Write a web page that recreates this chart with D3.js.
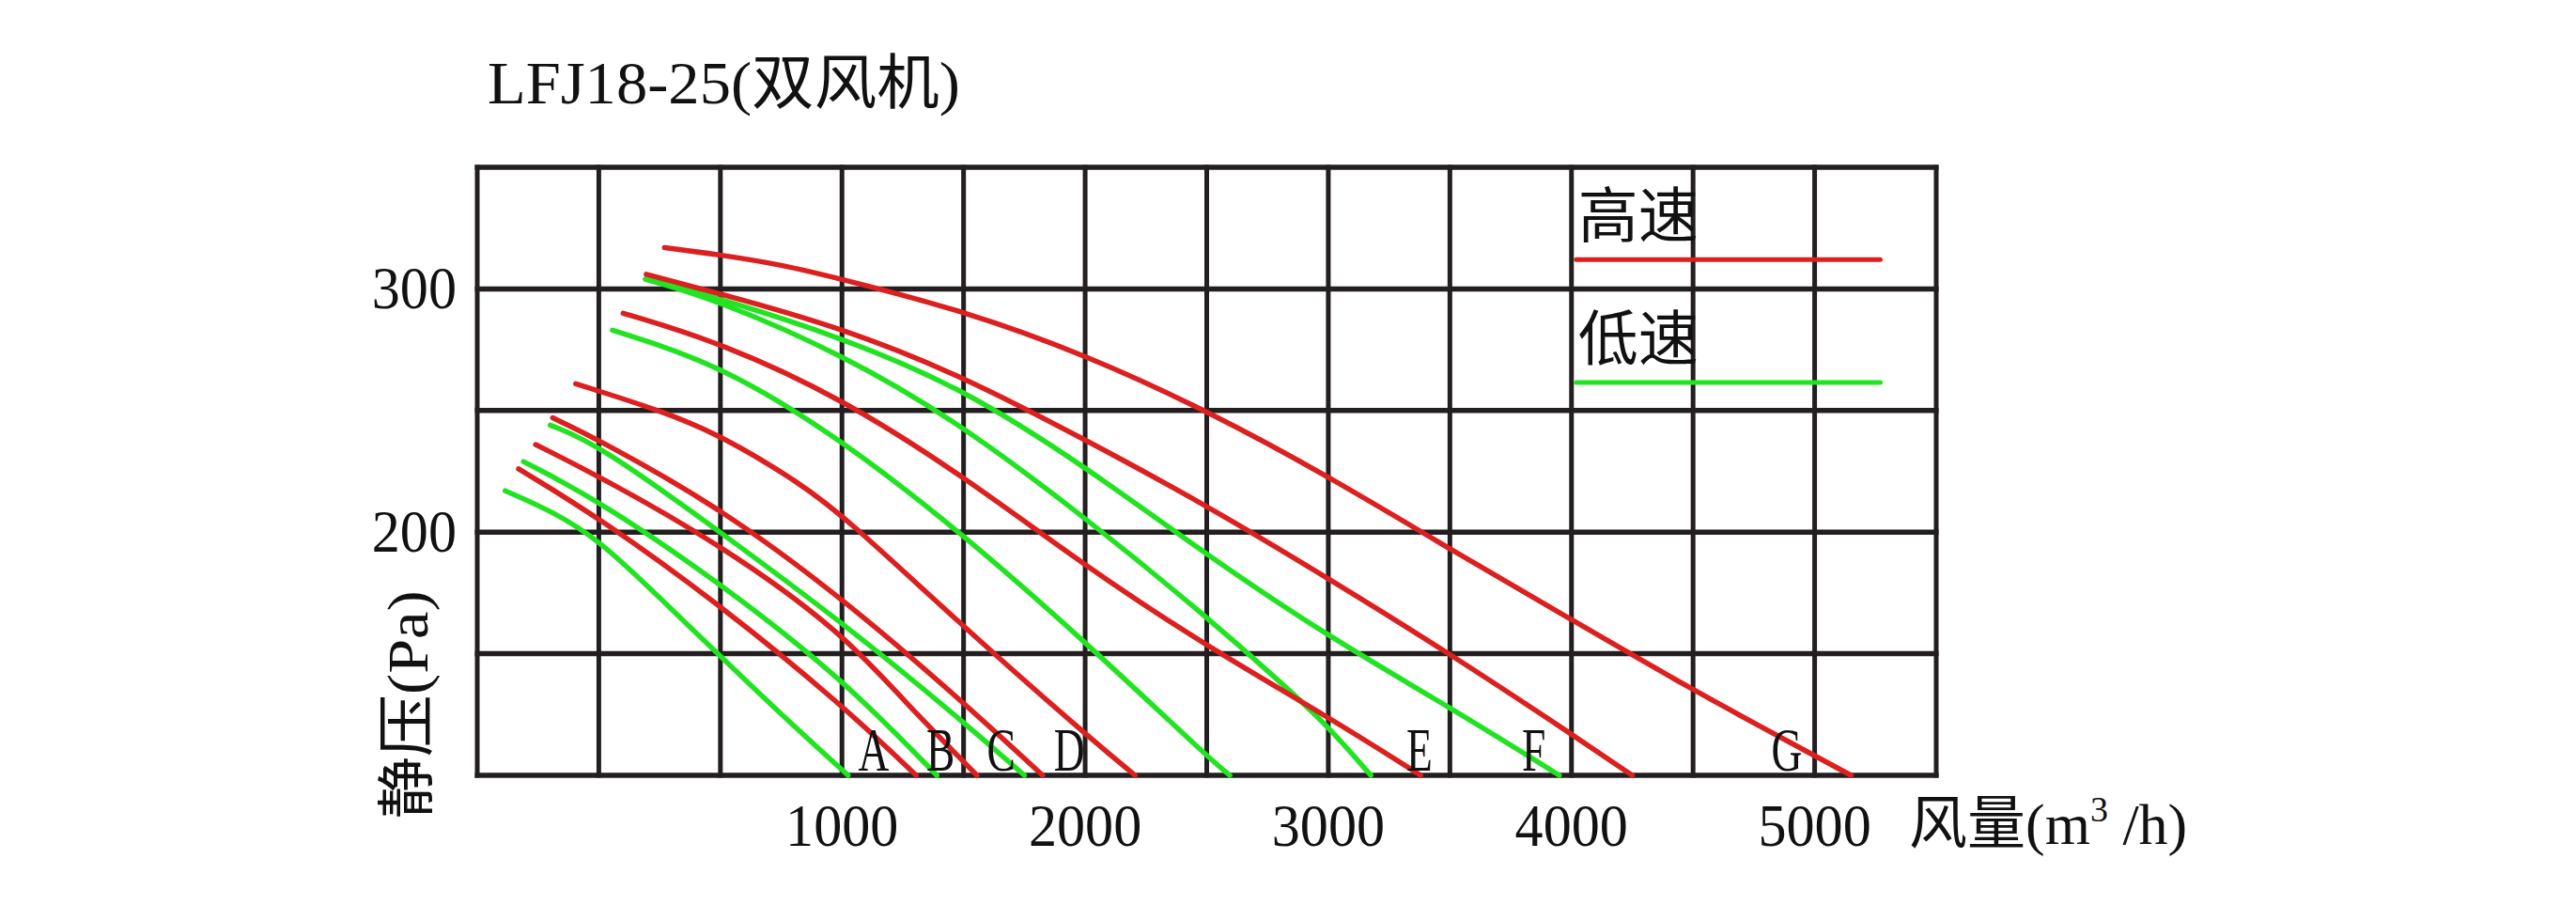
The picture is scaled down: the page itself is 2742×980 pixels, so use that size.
<!DOCTYPE html>
<html>
    <head>
        <meta charset="utf-8">
        <title>LFJ18-25</title>
        <script type="text/javascript" src="https://cdn.jsdelivr.net/npm/d3@7"></script>
        <style>
            body { margin: 0; background: #fff; }
            text { font-family: "Liberation Serif", "Noto Sans CJK SC", serif; fill: #111; }
        </style>
    </head>
    <body>
        <script type="text/javascript">
            // air flow (m3/h) and static pressure (Pa)
            var gridFlow = [-500, 0, 500, 1000, 1500, 2000, 2500, 3000, 3500, 4000, 4500, 5000, 5500];
            var gridPressure = [100, 150, 200, 250, 300, 350];
            var flowTicks = [1000, 2000, 3000, 4000, 5000];
            var pressureTicks = [200, 300];

            // high speed curves (red)
            var high1 = [[270,317],[500,314],[750,310],[1000,304],[1500,291],[2000,273],[2500,250],[3000,223],[3500,193],[4000,164],[4500,135],[4890,114],[5150,100]];
            var high2 = [[195,306],[500,298],[1000,284],[1500,264],[2000,238],[2500,211],[3000,181],[3500,150],[4000,117],[4250,100]];
            var high3 = [[100,290],[500,278],[1000,255],[1500,223],[2000,186],[2500,153],[3000,124],[3380,100]];
            var high4 = [[-95,261],[0,258],[250,250],[500,240],[830,220],[1015,206],[1500,161],[2000,117],[2205,100]];
            var high5 = [[-190,247],[0,238],[500,210],[1000,173],[1500,130],[1825,100]];
            var high6 = [[-260,236],[0,223],[500,195],[1000,159],[1250,131],[1555,100]];
            var high7 = [[-330,226],[0,206],[500,170],[1000,129],[1305,100]];

            // low speed curves (green)
            var low1 = [[192,304],[500,296],[1000,280],[1500,259],[2000,227],[2480,192],[3000,157],[3500,128],[3950,100]];
            var low2 = [[192,304],[500,295],[1000,273],[1450,247],[1950,210],[2480,167],[2830,136],[3000,120],[3175,100]];
            var low3 = [[56,283],[500,269],[1000,238],[1500,199],[2000,155],[2510,107],[2595,100]];
            var low4 = [[-200,244],[0,236],[500,200],[1000,163],[1500,122],[1750,100]];
            var low5 = [[-310,229],[0,213],[500,179],[1000,140],[1390,100]];
            var low6 = [[-385,217],[-200,209],[0,197],[250,173],[500,149],[750,125],[1025,100]];

            var highCurves = [high1, high2, high3, high4, high5, high6, high7];
            var lowCurves = [low1, low2, low3, low4, low5, low6];

            var fanLabels = ["A", "B", "C", "D", "E", "F", "G"];
            var fanLabelFlow = [1130, 1405, 1655, 1935, 3375, 3845, 4885];

            var legendNames = ["高速", "低速"];
            var legendColors = ["#dc1f1f", "#22e322"];
            var legendPressure = [312, 261.5];

            var svg = d3.select("body").append("svg").attr("width", 2742).attr("height", 980);

            var x = d3.scaleLinear().domain([-500, 5500]).range([508, 2061]);
            var y = d3.scaleLinear().domain([100, 350]).range([825, 178]);

            // grid
            svg.append("g").selectAll("line").data(gridFlow).enter().append("line")
                .attr("x1", function(d) { return x(d); }).attr("x2", function(d) { return x(d); })
                .attr("y1", y(100) + 2.5).attr("y2", y(350) - 2.5)
                .attr("stroke", "#231f20").attr("stroke-width", 5);
            svg.append("g").selectAll("line").data(gridPressure).enter().append("line")
                .attr("y1", function(d) { return y(d); }).attr("y2", function(d) { return y(d); })
                .attr("x1", x(-500) - 2.5).attr("x2", x(5500) + 2.5)
                .attr("stroke", "#231f20").attr("stroke-width", 5.5);

            // curves
            var line = d3.line()
                .x(function(d) { return x(d[0]); })
                .y(function(d) { return y(d[1]); })
                .curve(d3.curveBasis);

            svg.append("g").selectAll("path").data(lowCurves).enter().append("path")
                .attr("d", line).attr("fill", "none")
                .attr("stroke", legendColors[1]).attr("stroke-width", 5.5).attr("stroke-linecap", "round");
            svg.append("g").selectAll("path").data(highCurves).enter().append("path")
                .attr("d", line).attr("fill", "none")
                .attr("stroke", legendColors[0]).attr("stroke-width", 5.5).attr("stroke-linecap", "round");

            // fan letters
            svg.append("g").selectAll("text").data(fanLabels).enter().append("text")
                .attr("transform", function(d, i) { return "translate(" + x(fanLabelFlow[i]) + "," + (y(100) - 5) + ") scale(0.7,1)"; })
                .attr("text-anchor", "middle").attr("font-size", 65)
                .text(function(d) { return d; });

            // axis labels
            svg.append("g").selectAll("text").data(flowTicks).enter().append("text")
                .attr("transform", function(d) { return "translate(" + x(d) + "," + (y(100) + 75) + ") scale(0.94,1)"; })
                .attr("text-anchor", "middle").attr("font-size", 64)
                .text(function(d) { return d; });
            svg.append("g").selectAll("text").data(pressureTicks).enter().append("text")
                .attr("transform", function(d) { return "translate(" + (x(-500) - 22) + "," + (y(d) + 21) + ") scale(0.94,1)"; })
                .attr("text-anchor", "end").attr("font-size", 64)
                .text(function(d) { return d; });

            svg.append("text")
                .attr("x", 519).attr("y", 110)
                .attr("font-size", 64)
                .attr("textLength", 503).attr("lengthAdjust", "spacingAndGlyphs")
                .text("LFJ18-25(双风机)");

            svg.append("text")
                .attr("transform", "translate(455,750) rotate(-90)")
                .attr("text-anchor", "middle").attr("font-size", 62)
                .attr("textLength", 243).attr("lengthAdjust", "spacingAndGlyphs")
                .text("静压(Pa)");

            var xTitle = svg.append("text")
                .attr("x", 2032).attr("y", 898)
                .attr("font-size", 62);
            xTitle.append("tspan").text("风量(m");
            xTitle.append("tspan").attr("dy", -24).attr("font-size", 38).text("3");
            xTitle.append("tspan").attr("dy", 24).text(" /h)");

            // legend
            var legend = svg.append("g").selectAll("g").data(legendNames).enter().append("g");
            legend.append("text")
                .attr("x", x(4000) + 7)
                .attr("y", function(d, i) { return y(legendPressure[i]) - 24; })
                .attr("font-size", 64)
                .text(function(d) { return d; });
            legend.append("line")
                .attr("x1", x(4000) + 5).attr("x2", x(5270))
                .attr("y1", function(d, i) { return y(legendPressure[i]); })
                .attr("y2", function(d, i) { return y(legendPressure[i]); })
                .attr("stroke", function(d, i) { return legendColors[i]; })
                .attr("stroke-width", 5).attr("stroke-linecap", "round");
        </script>
    </body>
</html>
